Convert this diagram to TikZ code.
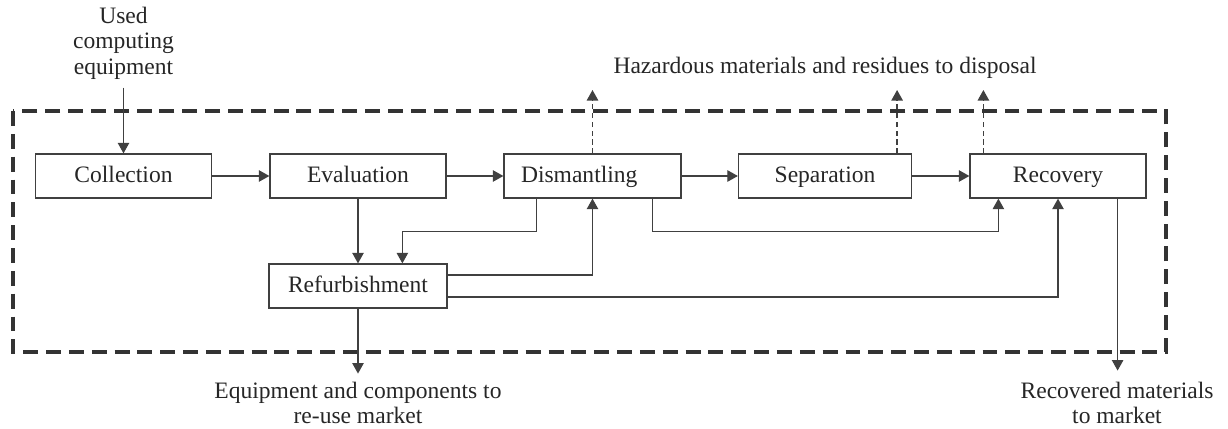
\documentclass[tikz,border=0pt]{standalone}
\usepackage{fontspec}
\setmainfont{Liberation Serif}
\usetikzlibrary{arrows.meta}

\begin{document}
\begin{tikzpicture}[x=0.02cm,y=-0.02cm,font=\fontsize{13.4}{14.6}\selectfont]
\tikzstyle{stage}=[draw=black!75,line width=0.7pt,minimum width=3.52cm,minimum height=0.88cm,inner sep=0pt,text height=9.5pt,text depth=1.6pt,text=black!85]
\tikzstyle{flow}=[draw=black!75,line width=0.7pt,-{Triangle[length=6pt,width=6.5pt]}]
\tikzstyle{waste}=[flow,dash pattern=on 3pt off 2pt]
\tikzstyle{border}=[draw=black!80,line width=2pt,dash pattern=on 8.5pt off 4.5pt]
\tikzstyle{label}=[align=center,text=black!85,inner sep=0pt]
\useasboundingbox (0,0) rectangle (1228,429);
\draw[border] (13,111) rectangle (1166,352);
\node[stage] (coll) at (123.5,176) {Collection};
\node[stage] (eval) at (358,176) {Evaluation};
\node[stage,text width=2.86cm,inner xsep=0.34cm,align=left] (dism) at (592.5,176) {Dismantling};
\node[stage,minimum width=3.46cm] (sep) at (825,176) {Separation};
\node[stage] (rec) at (1058,176) {Recovery};
\node[stage,minimum width=3.56cm] (refurb) at (358,286) {Refurbishment};
\node[label] (used) at (123.5,43) {Used\\computing\\equipment};
\node[label] (haz) at (825,68) {Hazardous materials and residues to disposal};
\node[label] (reuse) at (358,403) {Equipment and components to\\re-use market};
\node[label] (market) at (1117,403) {Recovered materials\\to market};
\coordinate (hz) at (825,90);
\draw[flow] (used.south) ++(0,8) -- (coll.north);
\draw[flow] (coll) -- (eval);
\draw[flow] (eval) -- (dism);
\draw[flow] (dism) -- (sep);
\draw[flow] (sep) -- (rec);
\draw[flow] (eval) -- (refurb);
\draw[flow] ([xshift=0.66cm]dism.south west) -- ++(0,33) -| ([xshift=2.68cm]refurb.north west);
\draw[flow] ([yshift=0.22cm]refurb.east) -| (dism.south);
\draw[flow] ([yshift=-0.22cm]refurb.east) -| (rec.south);
\draw[flow] ([xshift=-0.58cm]dism.south east) -- ++(0,33) -| ([xshift=0.58cm]rec.south west);
\draw[flow] (refurb.south) -- ++(0,65);
\draw[flow] ([xshift=-0.58cm]rec.south east) -- ++(0,172);
\draw[waste] (dism.north) -- (dism.north |- hz);
\draw[waste] ([xshift=-0.3cm]sep.north east) -- ([xshift=-0.3cm]sep.north east |- hz);
\draw[waste] ([xshift=0.28cm]rec.north west) -- ([xshift=0.28cm]rec.north west |- hz);
\end{tikzpicture}
\end{document}
